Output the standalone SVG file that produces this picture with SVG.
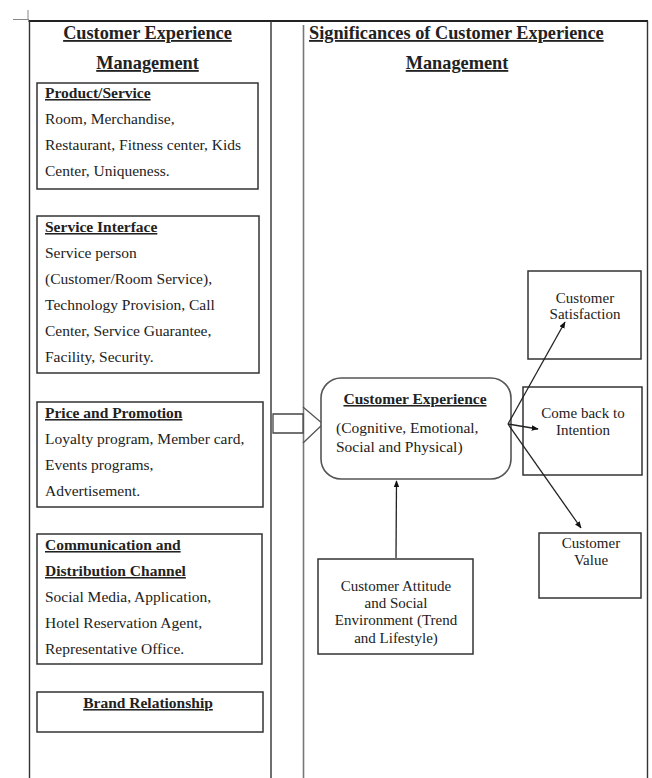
<svg xmlns="http://www.w3.org/2000/svg" width="652" height="778" viewBox="0 0 652 778">
<style>
.t{font-family:"Liberation Serif","Times New Roman",serif;font-size:15.5px;fill:#222}
.b{font-weight:bold;text-decoration:underline}
.h{font-family:"Liberation Serif","Times New Roman",serif;font-size:18.3px;font-weight:bold;text-decoration:underline;fill:#222}
.s{font-family:"Liberation Serif","Times New Roman",serif;font-size:15px;fill:#222}
.box{fill:none;stroke:#333;stroke-width:1.5}
.c{fill:none;stroke:#222;stroke-width:1.3}
</style>
<defs>
<marker id="ah" viewBox="0 0 10 10" refX="9" refY="5" markerWidth="7" markerHeight="7" orient="auto" markerUnits="userSpaceOnUse">
<path d="M0,1 L10,5 L0,9 Z" fill="#111"/>
</marker>
</defs>
<rect width="652" height="778" fill="#fff"/>
<g id="table">
<path d="M13,19.5 H29 M28,10 V19" stroke="#888" stroke-width="1" fill="none"/>
<path d="M28.5,21 H648" stroke="#222" stroke-width="2.2" fill="none"/>
<path d="M29.5,21 V778 M271,21 V778 M647.5,21 V778" stroke="#333" stroke-width="1.4" fill="none"/>
<path d="M303.5,25 V778" stroke="#777" stroke-width="1.6" fill="none"/>
<text class="h" x="147.5" y="39" text-anchor="middle">Customer Experience</text>
<text class="h" x="147.5" y="69" text-anchor="middle">Management</text>
<text class="h" x="309" y="39">Significances of Customer Experience</text>
<text class="h" x="457" y="69" text-anchor="middle">Management</text>
</g>
<g id="product-service">
<rect class="box" x="37" y="83" width="221" height="106"/>
<text class="t b" x="45" y="98">Product/Service</text>
<text class="t" x="45" y="124">Room, Merchandise,</text>
<text class="t" x="45" y="150">Restaurant, Fitness center, Kids</text>
<text class="t" x="45" y="176">Center, Uniqueness.</text>
</g>
<g id="service-interface">
<rect class="box" x="37" y="216" width="222" height="157"/>
<text class="t b" x="45" y="232">Service Interface</text>
<text class="t" x="45" y="258">Service person</text>
<text class="t" x="45" y="284">(Customer/Room Service),</text>
<text class="t" x="45" y="310">Technology Provision, Call</text>
<text class="t" x="45" y="336">Center, Service Guarantee,</text>
<text class="t" x="45" y="362">Facility, Security.</text>
</g>
<g id="price-promotion">
<rect class="box" x="37" y="402" width="226" height="105"/>
<text class="t b" x="45" y="418">Price and Promotion</text>
<text class="t" x="45" y="444">Loyalty program, Member card,</text>
<text class="t" x="45" y="470">Events programs,</text>
<text class="t" x="45" y="496">Advertisement.</text>
</g>
<g id="communication">
<rect class="box" x="37" y="534" width="225" height="130"/>
<text class="t b" x="45" y="550">Communication and</text>
<text class="t b" x="45" y="576">Distribution Channel</text>
<text class="t" x="45" y="602">Social Media, Application,</text>
<text class="t" x="45" y="628">Hotel Reservation Agent,</text>
<text class="t" x="45" y="654">Representative Office.</text>
</g>
<g id="brand-relationship">
<rect class="box" x="37" y="692" width="226" height="40"/>
<text class="t b" x="148" y="708" text-anchor="middle">Brand Relationship</text>
</g>
<g id="block-arrow">
<path d="M273,414 H303 V433 H273 Z" fill="#fff" stroke="#444" stroke-width="1.3"/>
<path d="M303,407 L323,424 L303,443" fill="none" stroke="#555" stroke-width="1.3"/>
</g>
<g id="customer-experience">
<rect x="321" y="378" width="190" height="101" rx="20" ry="20" fill="#fff" stroke="#555" stroke-width="1.6"/>
<text class="t b" x="415" y="404" text-anchor="middle">Customer Experience</text>
<text class="t" x="336" y="433">(Cognitive, Emotional,</text>
<text class="t" x="336" y="452">Social and Physical)</text>
</g>
<g id="customer-satisfaction">
<rect class="box" x="528" y="271" width="113" height="88"/>
<text class="s" x="585" y="303" text-anchor="middle">Customer</text>
<text class="s" x="585" y="319" text-anchor="middle">Satisfaction</text>
</g>
<g id="come-back">
<rect class="box" x="523" y="387" width="119" height="88"/>
<text class="s" x="583" y="418" text-anchor="middle">Come back to</text>
<text class="s" x="583" y="435" text-anchor="middle">Intention</text>
</g>
<g id="customer-value">
<rect class="box" x="539" y="533" width="102" height="65"/>
<text class="s" x="591" y="548" text-anchor="middle">Customer</text>
<text class="s" x="591" y="565" text-anchor="middle">Value</text>
</g>
<g id="customer-attitude">
<rect class="box" x="318" y="559" width="155" height="95"/>
<text class="s" x="396" y="591" text-anchor="middle">Customer Attitude</text>
<text class="s" x="396" y="608" text-anchor="middle">and Social</text>
<text class="s" x="396" y="625" text-anchor="middle">Environment (Trend</text>
<text class="s" x="396" y="643" text-anchor="middle">and Lifestyle)</text>
</g>
<g id="connectors">
<line class="c" x1="396" y1="558" x2="396.5" y2="481" marker-end="url(#ah)"/>
<line class="c" x1="508" y1="424" x2="565" y2="322" marker-end="url(#ah)"/>
<line class="c" x1="508" y1="424" x2="538" y2="429" marker-end="url(#ah)"/>
<line class="c" x1="508" y1="424" x2="581" y2="528" marker-end="url(#ah)"/>
</g>
</svg>
